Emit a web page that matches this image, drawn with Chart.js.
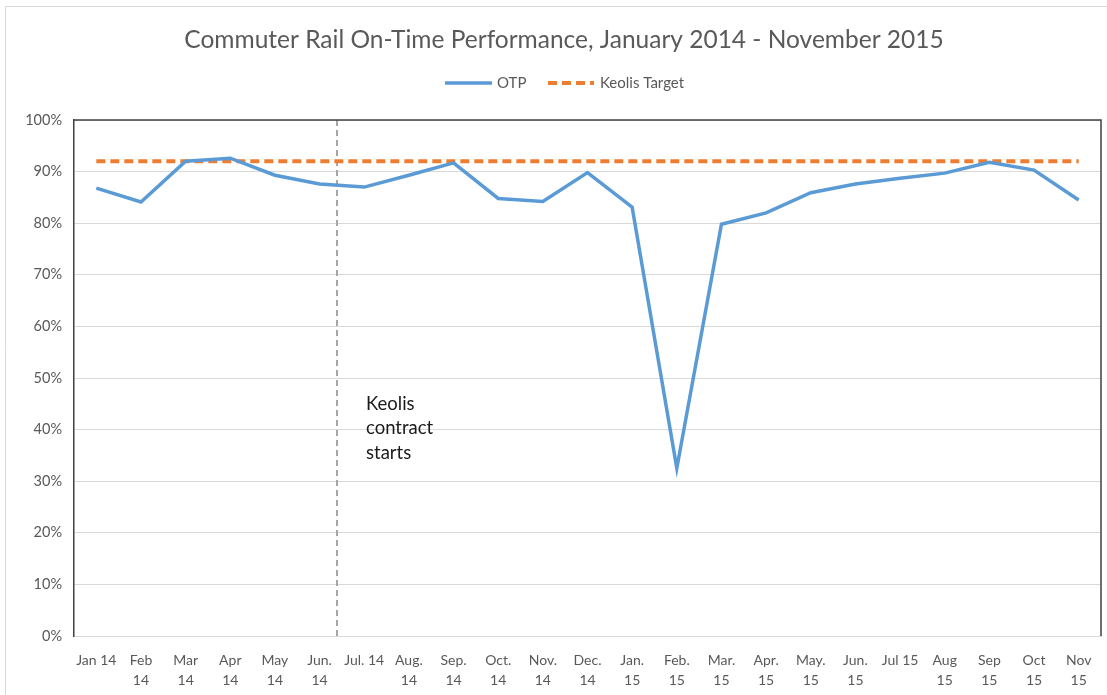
<!DOCTYPE html>
<html>
<head>
<meta charset="utf-8">
<script src="https://cdn.jsdelivr.net/npm/chart.js@4.4.1/dist/chart.umd.min.js"></script>
<style>
  body { margin: 0; background: #fff; }
</style>
</head>
<body>
<canvas id="otpChart" width="1107" height="695"></canvas>
<script>
var months = [
  ["Jan 14"], ["Feb", "14"], ["Mar", "14"], ["Apr", "14"], ["May", "14"], ["Jun.", "14"],
  ["Jul. 14"], ["Aug.", "14"], ["Sep.", "14"], ["Oct.", "14"], ["Nov.", "14"], ["Dec.", "14"],
  ["Jan.", "15"], ["Feb.", "15"], ["Mar.", "15"], ["Apr.", "15"], ["May.", "15"], ["Jun.", "15"],
  ["Jul 15"], ["Aug", "15"], ["Sep", "15"], ["Oct", "15"], ["Nov", "15"]
];
var otp = [86.8, 84.1, 92.0, 92.6, 89.3, 87.6, 87.0, 89.3, 91.7, 84.8, 84.2, 89.8,
           83.1, 32.5, 79.8, 82.0, 85.9, 87.6, 88.7, 89.7, 91.8, 90.3, 84.5];
var target = [92, 92, 92, 92, 92, 92, 92, 92, 92, 92, 92, 92,
              92, 92, 92, 92, 92, 92, 92, 92, 92, 92, 92];
var contractStart = 5.39;   // just before Jul 14
var noteLines = ["Keolis", "contract", "starts"];
var chartTitle = "Commuter Rail On-Time Performance, January 2014 - November 2015";

var FONT = "Lato, 'Liberation Sans', sans-serif";
var GREY = "#595959";

var decorations = {
  id: "decorations",
  beforeDraw: function(chart) {
    var ctx = chart.ctx;
    ctx.save();
    // outer frame
    ctx.strokeStyle = "#d9d9d9";
    ctx.lineWidth = 1;
    ctx.beginPath();
    ctx.moveTo(5.5, 695);
    ctx.lineTo(5.5, 6.5);
    ctx.lineTo(1107, 6.5);
    ctx.stroke();
    // title
    ctx.fillStyle = GREY;
    ctx.font = "24.5px " + FONT;
    ctx.textAlign = "center";
    ctx.textBaseline = "middle";
    ctx.fillText(chartTitle, 564, 40);
    // legend
    ctx.font = "15px " + FONT;
    ctx.textAlign = "left";
    ctx.lineWidth = 3.5;
    ctx.strokeStyle = "#5B9BD5";
    ctx.beginPath();
    ctx.moveTo(445, 83);
    ctx.lineTo(492, 83);
    ctx.stroke();
    ctx.fillText("OTP", 497, 83);
    ctx.strokeStyle = "#ED7D31";
    ctx.lineWidth = 4;
    ctx.setLineDash([9, 5]);
    ctx.beginPath();
    ctx.moveTo(548, 83);
    ctx.lineTo(594, 83);
    ctx.stroke();
    ctx.setLineDash([]);
    ctx.fillText("Keolis Target", 600, 83);
    ctx.restore();
  },
  beforeDatasetsDraw: function(chart) {
    var ctx = chart.ctx;
    var x = chart.scales.x.getPixelForValue(contractStart);
    var a = chart.chartArea;
    ctx.save();
    ctx.strokeStyle = "#a6a6a6";
    ctx.lineWidth = 2;
    ctx.setLineDash([6, 4]);
    ctx.beginPath();
    ctx.moveTo(x, a.top);
    ctx.lineTo(x, a.bottom);
    ctx.stroke();
    ctx.restore();
  },
  afterDraw: function(chart) {
    var ctx = chart.ctx;
    var a = chart.chartArea;
    ctx.save();
    // plot frame (top and right)
    ctx.strokeStyle = "#404040";
    ctx.lineWidth = 1.5;
    ctx.beginPath();
    ctx.moveTo(a.left, a.top);
    ctx.lineTo(a.right, a.top);
    ctx.lineTo(a.right, a.bottom);
    ctx.stroke();
    // annotation
    var x = chart.scales.x.getPixelForValue(contractStart) + 29;
    var y = chart.scales.y.getPixelForValue(45);
    ctx.fillStyle = "#1a1a1a";
    ctx.font = "18.5px " + FONT;
    ctx.textAlign = "left";
    ctx.textBaseline = "middle";
    noteLines.forEach(function(t, i) {
      ctx.fillText(t, x, y + i * 24.5);
    });
    ctx.restore();
  }
};

var myChart = new Chart(document.getElementById("otpChart").getContext("2d"), {
  type: "line",
  data: {
    labels: months,
    datasets: [{
      label: "OTP",
      data: otp,
      borderColor: "#5B9BD5",
      borderWidth: 3.5,
      pointRadius: 0,
      tension: 0,
      fill: false
    }, {
      label: "Keolis Target",
      data: target,
      borderColor: "#ED7D31",
      borderWidth: 4,
      borderDash: [9, 5],
      pointRadius: 0,
      fill: false
    }]
  },
  options: {
    responsive: false,
    animation: false,
    layout: { padding: { top: 120, right: 6, left: 0, bottom: 0 } },
    plugins: {
      legend: { display: false },
      title: { display: false },
      tooltip: { enabled: false }
    },
    scales: {
      x: {
        offset: true,
        grid: { display: false, drawTicks: false },
        border: { color: "#d9d9d9", width: 1 },
        ticks: {
          color: GREY,
          font: { family: FONT, size: 14, lineHeight: 1.43 },
          maxRotation: 0,
          autoSkip: false,
          padding: 14
        },
        afterFit: function(scale) {
          scale.height = 59;
          scale.paddingLeft = 0;
          scale.paddingRight = 0;
        }
      },
      y: {
        min: 0,
        max: 100,
        grid: { color: "#d9d9d9", drawTicks: false },
        border: { color: "#404040", width: 1.5 },
        ticks: {
          stepSize: 10,
          color: GREY,
          font: { family: FONT, size: 14.5 },
          padding: 12,
          callback: function(v) { return v + "%"; }
        },
        afterFit: function(scale) { scale.width = 74; }
      }
    }
  },
  plugins: [decorations]
});
</script>
</body>
</html>
